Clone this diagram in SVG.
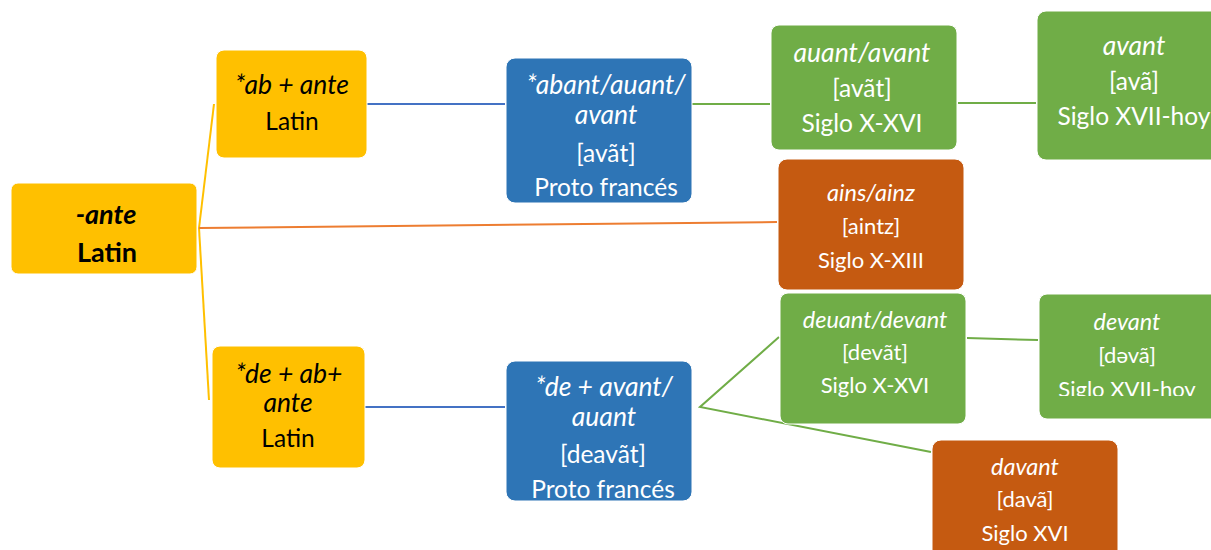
<svg xmlns="http://www.w3.org/2000/svg" width="1211" height="550" viewBox="0 0 1211 550">
<style>
text{font-family:Lato,"Open Sans","Liberation Sans",sans-serif;text-anchor:middle;font-size:24.5px}
.w{fill:#fff}
.b{fill:#000}
.i{font-style:italic;font-size:26.5px}
.bd{font-weight:bold;font-size:27px}
.s{font-size:22px}
.i.s{font-size:23.5px}
.yel{fill:#FFC000;stroke:#fff;stroke-width:1}
.blu{fill:#2E75B6;stroke:#fff;stroke-width:1}
.grn{fill:#70AD47;stroke:#fff;stroke-width:1}
.org{fill:#C55A11;stroke:#fff;stroke-width:1}
.c{fill:none;stroke-width:2}
</style>
<defs>
<clipPath id="clipB"><rect x="0" y="0" width="1211" height="396"/></clipPath>
</defs>
<g id="connectors">
<line class="c" stroke="#FFC000" x1="199" y1="228" x2="214" y2="104"/>
<line class="c" stroke="#FFC000" x1="199" y1="228" x2="209" y2="400"/>
<line class="c" stroke="#ED7D31" x1="199" y1="228" x2="777" y2="222"/>
<line class="c" stroke="#4472C4" x1="367" y1="104" x2="505" y2="104"/>
<line class="c" stroke="#70AD47" x1="692" y1="104" x2="770" y2="104"/>
<line class="c" stroke="#70AD47" x1="958" y1="103" x2="1036" y2="103"/>
<line class="c" stroke="#4472C4" x1="365" y1="407" x2="505" y2="407"/>
<polyline class="c" stroke="#70AD47" points="779,337 700,407 931,452"/>
<line class="c" stroke="#70AD47" x1="967" y1="338" x2="1038" y2="340"/>
</g>
<g id="n-ante">
<rect class="yel" x="11" y="183" width="186" height="91" rx="7"/>
<text class="b i bd" x="106" y="224">-ante</text>
<text class="b bd" x="107" y="262">Latin</text>
</g>
<g id="n-abante">
<rect class="yel" x="216" y="50" width="151" height="108" rx="8"/>
<text class="b i" x="292" y="94">*ab + ante</text>
<text class="b" x="292" y="130">Latin</text>
</g>
<g id="n-deabante">
<rect class="yel" x="212" y="346" width="153" height="122" rx="8"/>
<text class="b i" x="289" y="383">*de + ab+</text>
<text class="b i" x="288" y="412">ante</text>
<text class="b" x="288" y="447">Latin</text>
</g>
<g id="n-abant">
<rect class="blu" x="506" y="58" width="186" height="145" rx="9"/>
<text class="w i" x="606" y="94">*abant/auant/</text>
<text class="w i" x="606" y="124">avant</text>
<text class="w" x="606" y="162">[avãt]</text>
<text class="w" x="606" y="196">Proto francés</text>
</g>
<g id="n-deavant">
<rect class="blu" x="506" y="361" width="186" height="140" rx="9"/>
<text class="w i" x="604" y="396">*de + avant/</text>
<text class="w i" x="604" y="426">auant</text>
<text class="w" x="603" y="463">[deavãt]</text>
<text class="w" x="603" y="498">Proto francés</text>
</g>
<g id="n-auant">
<rect class="grn" x="771" y="25" width="186" height="125" rx="8"/>
<text class="w i" x="862" y="62">auant/avant</text>
<text class="w" x="862" y="97">[avãt]</text>
<text class="w" x="862" y="132">Siglo X-XVI</text>
</g>
<g id="n-avant">
<rect class="grn" x="1037" y="11" width="190" height="149" rx="9"/>
<text class="w i" x="1134" y="55">avant</text>
<text class="w" x="1134" y="90">[avã]</text>
<text class="w" x="1134" y="125">Siglo XVII-hoy</text>
</g>
<g id="n-ains">
<rect class="org" x="778" y="159" width="186" height="131" rx="9"/>
<text class="w i s" x="871" y="201">ains/ainz</text>
<text class="w s" x="871" y="234">[aintz]</text>
<text class="w s" x="871" y="268">Siglo X-XIII</text>
</g>
<g id="n-deuant">
<rect class="grn" x="780" y="293" width="186" height="131" rx="8"/>
<text class="w i s" x="875" y="328">deuant/devant</text>
<text class="w s" x="875" y="360">[devãt]</text>
<text class="w s" x="875" y="393">Siglo X-XVI</text>
</g>
<g id="n-devant">
<rect class="grn" x="1039" y="294" width="190" height="125" rx="8"/>
<g clip-path="url(#clipB)">
<text class="w i s" x="1127" y="330">devant</text>
<text class="w s" x="1127" y="363">[dəvã]</text>
<text class="w s" x="1127" y="397">Siglo XVII-hoy</text>
</g>
</g>
<g id="n-davant">
<rect class="org" x="932" y="440" width="186" height="130" rx="9"/>
<text class="w i s" x="1025" y="475">davant</text>
<text class="w s" x="1025" y="507">[davã]</text>
<text class="w s" x="1025" y="541">Siglo XVI</text>
</g>
</svg>
